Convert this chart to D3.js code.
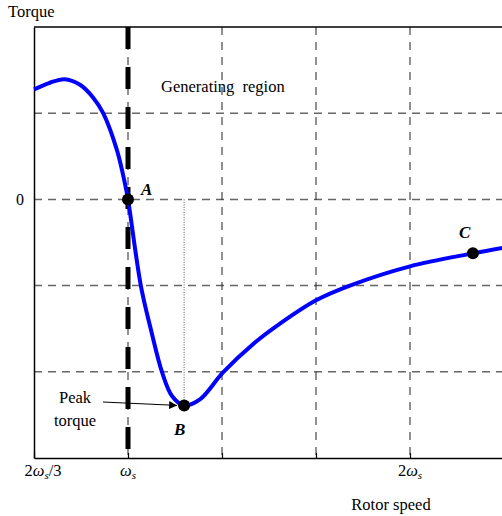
<!DOCTYPE html>
<html>
<head>
<meta charset="utf-8">
<script src="https://cdn.jsdelivr.net/npm/d3@7"></script>
<style>
  body { margin: 0; background: #fff; }
  svg { display: block; }
  text { font-family: "Liberation Serif", "Times New Roman", serif; }
</style>
</head>
<body>
<svg id="chart" width="502" height="516"></svg>
<script>
// speed in multiples of ws, torque in grid units (0 = zero torque line)
const speed = [0.667, 0.72, 0.775, 0.83, 0.876, 0.912, 0.961, 0.989, 1.0, 1.046, 1.082, 1.121, 1.156, 1.199, 1.255, 1.337, 1.45, 1.539, 1.667, 1.787, 2.0, 2.223, 2.337];
const torque = [1.276, 1.35, 1.395, 1.33, 1.183, 1.0, 0.568, 0.186, 0, -1.009, -1.52, -2.007, -2.28, -2.39, -2.32, -2.007, -1.66, -1.44, -1.17, -1.0, -0.777, -0.626, -0.557];
const gridSpeed = [1, 4 / 3, 5 / 3, 2];
const gridTorque = [1, 0, -1, -2];
const xTicks = [
  { v: 2 / 3, pre: '2', post: '/3' },
  { v: 1, pre: '', post: '' },
  { v: 4 / 3 },
  { v: 5 / 3 },
  { v: 2, pre: '2', post: '' }
];
const points = [
  { name: 'A', s: 1.0, t: 0, dx: 13, dy: -4 },
  { name: 'B', s: 1.199, t: -2.39, dx: -10, dy: 30 },
  { name: 'C', s: 2.223, t: -0.626, dx: -14, dy: -15 }
];
const serif = 'Liberation Serif';

const svg = d3.select('#chart');
const x = d3.scaleLinear().domain([2 / 3, 7 / 3]).range([34, 504]);
const y = d3.scaleLinear().domain([-3, 2]).range([458, 27]);

// grid
svg.append('g')
  .selectAll('line')
  .data(gridTorque)
  .join('line')
  .attr('x1', x(2 / 3)).attr('x2', 502)
  .attr('y1', (d) => y(d)).attr('y2', (d) => y(d))
  .attr('stroke', '#666').attr('stroke-width', 1.5).attr('stroke-dasharray', '8,6');
svg.append('g')
  .selectAll('line')
  .data(gridSpeed)
  .join('line')
  .attr('x1', (d) => x(d)).attr('x2', (d) => x(d))
  .attr('y1', y(2)).attr('y2', y(-3))
  .attr('stroke', '#222').attr('stroke-width', 1).attr('stroke-dasharray', '8,7');

// frame
svg.append('line').attr('x1', x(2 / 3)).attr('x2', 502).attr('y1', y(2)).attr('y2', y(2))
  .attr('stroke', '#000').attr('stroke-width', 1.5);

const xAxis = svg.append('g')
  .attr('transform', `translate(0,${y(-3)})`)
  .call(d3.axisBottom(x).tickValues(xTicks.map((d) => d.v)).tickSize(-5).tickSizeOuter(0).tickFormat(''));
xAxis.select('.domain').attr('stroke', '#000').attr('stroke-width', 1.5);
xAxis.selectAll('.tick line').attr('stroke', '#000').attr('stroke-width', 1.2);

const yAxis = svg.append('g')
  .attr('transform', `translate(${x(2 / 3)},0)`)
  .call(d3.axisLeft(y).tickValues([0]).tickFormat(d3.format('d')).tickSize(0).tickSizeOuter(0).tickPadding(10));
yAxis.select('.domain').attr('stroke', '#000').attr('stroke-width', 1.5);
yAxis.selectAll('.tick text').attr('font-size', 16).attr('fill', '#000');

// x tick labels with omega subscript (first one sits right of the corner)
const tickText = svg.append('g')
  .selectAll('text')
  .data(xTicks.filter((d) => d.pre !== undefined))
  .join('text')
  .attr('x', (d) => x(d.v))
  .attr('dx', (d, i) => (i === 0 ? 9 : 0))
  .attr('y', 476)
  .attr('text-anchor', 'middle')
  .attr('font-size', 16.5);
tickText.append('tspan').text((d) => d.pre);
tickText.append('tspan').attr('font-style', 'italic').text('\u03c9');
tickText.append('tspan').attr('font-style', 'italic').attr('font-size', 11).attr('dy', 3).text('s');
tickText.append('tspan').attr('dy', -3).text((d) => d.post);

// operating line at synchronous speed
svg.append('line')
  .attr('x1', x(1)).attr('x2', x(1))
  .attr('y1', y(2)).attr('y2', y(-3))
  .attr('stroke', '#000').attr('stroke-width', 5).attr('stroke-dasharray', '22,18');

// peak torque guide
svg.append('line')
  .attr('x1', x(1.199)).attr('x2', x(1.199))
  .attr('y1', y(0)).attr('y2', y(-2.39))
  .attr('stroke', '#555').attr('stroke-width', 1).attr('stroke-dasharray', '1,1.5');

// torque curve
const line = d3.line()
  .x((d, i) => x(speed[i]))
  .y((d, i) => y(torque[i]))
  .curve(d3.curveCatmullRom.alpha(0.5));
svg.append('path')
  .datum(speed)
  .attr('d', line)
  .attr('fill', 'none')
  .attr('stroke', '#0000ff')
  .attr('stroke-width', 4);

// marked points
svg.append('g')
  .selectAll('circle')
  .data(points)
  .join('circle')
  .attr('cx', (d) => x(d.s)).attr('cy', (d) => y(d.t)).attr('r', 6)
  .attr('fill', '#000');
svg.append('g')
  .selectAll('text')
  .data(points)
  .join('text')
  .attr('x', (d) => x(d.s) + d.dx)
  .attr('y', (d) => y(d.t) + d.dy)
  .attr('font-size', 17).attr('font-weight', 'bold').attr('font-style', 'italic')
  .text((d) => d.name);

// arrow to peak torque
svg.append('defs').append('marker')
  .attr('id', 'head').attr('viewBox', '0 0 10 10').attr('refX', 10).attr('refY', 5)
  .attr('markerWidth', 10).attr('markerHeight', 8).attr('markerUnits', 'userSpaceOnUse')
  .attr('orient', 'auto')
  .append('path').attr('d', 'M0,0L10,5L0,10z').attr('fill', '#000');
svg.append('line')
  .attr('x1', 103).attr('y1', 402)
  .attr('x2', x(1.199) - 7).attr('y2', y(-2.39))
  .attr('stroke', '#000').attr('stroke-width', 1)
  .attr('marker-end', 'url(#head)');

// texts
svg.append('text').attr('x', 8).attr('y', 17).attr('font-size', 16.5).text('Torque');
svg.append('text').attr('x', 161).attr('y', 92).attr('font-size', 16.5).attr('xml:space', 'preserve').text('Generating  region');
svg.append('text').attr('x', 75).attr('y', 403).attr('text-anchor', 'middle').attr('font-size', 16.5).text('Peak');
svg.append('text').attr('x', 75).attr('y', 426).attr('text-anchor', 'middle').attr('font-size', 16.5).text('torque');
svg.append('text').attr('x', 391).attr('y', 510).attr('text-anchor', 'middle').attr('font-size', 16.5).text('Rotor speed');

svg.selectAll('text').attr('font-family', serif);
</script>
</body>
</html>
